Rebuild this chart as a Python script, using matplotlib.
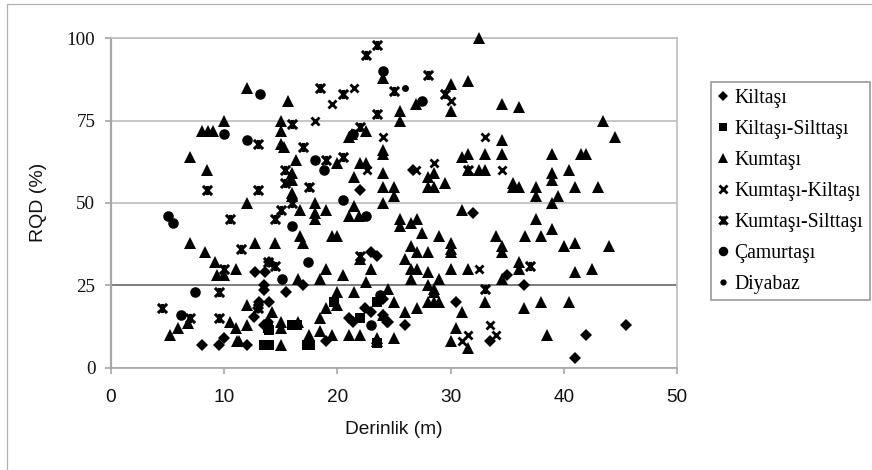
import numpy as np
import matplotlib.pyplot as plt
from matplotlib.path import Path
from matplotlib.lines import Line2D

# values: (derinlik, RQD) for each rock type
kiltasi_x = [8, 9.5, 10, 12, 12.7, 13.6, 14, 13.5, 13.5, 15.5, 17, 14, 13.1, 13, 12.6, 13.5, 13.9, 19, 23, 23.5,
             21, 21.4, 22.4, 23, 24.4, 22, 26.7, 32, 35, 36.5, 30.5, 26, 24.5, 24, 33.5, 42, 45.5, 41, 24]
kiltasi_y = [7, 7, 9, 7, 29, 29, 32, 25, 23.5, 23, 25, 20, 20, 18, 15.5, 13, 14, 8, 35, 34,
             15, 14, 18, 17, 14, 54, 60, 47, 28, 25, 20, 13, 14, 16, 8, 10, 13, 3, 21]
kiltasi_silt_x = [13.5, 14, 17.3, 17.6, 16, 16.4, 22, 23.5, 19.7, 13.9, 14, 23.5]
kiltasi_silt_y = [7, 7, 7, 7, 13, 13, 15, 20, 20, 12, 11.5, 7.4]
kumtasi_x = [12, 15.6, 10, 8, 8.6, 9, 7, 8.5, 15, 15, 15, 15.3, 16.3, 16, 16, 16, 16, 12, 18, 20, 21, 21.3, 22.5,
             22, 22.5, 21.5, 24, 24, 24, 24, 24, 21.5, 24, 32.5, 30, 31.5, 26.9, 25.5, 25.5, 30, 34.5, 36, 43.5,
             44.5, 34.5, 34.5, 33, 31.5, 31, 39, 41.5, 42, 40.5, 39, 39, 41, 43, 37.5, 37.5, 39.5, 39, 35.5, 35.5,
             36, 31.5, 32.5, 33, 28, 28.5, 29.5, 28, 28.5, 25, 25,
             7, 8.3, 9.2, 9.4, 10, 11, 12.7, 14.5, 16.7, 17, 19.5, 20, 21, 21.9, 18, 18, 16.7, 19,
             19, 18.5, 20.5, 16.5, 23, 22.5, 22, 20, 21.5, 20, 19, 18.5, 18.5, 19.5, 21, 22, 23.5, 23.5, 17.5, 17.5,
             12, 14.2, 12, 10.5, 11, 11.1, 11.3, 15, 15, 15, 16.5, 5.9, 5.2, 6.8, 24, 24.5,
             31, 37.5, 27, 26.5, 25.5, 25.5, 27.5, 29, 34, 36.6, 38, 39, 41, 40, 44, 30, 30, 30, 26.5, 27, 28,
             34.5, 34.5, 26, 26.5, 27, 28, 30, 31.5, 36, 36, 41, 42.5, 26.5, 29, 34.5, 28, 28.5, 28.5,
             28, 28.5, 29, 25, 33, 38, 40.5, 36.5, 27, 26, 31, 30.5, 25, 30, 31.5, 38.5]
kumtasi_y = [85, 81, 75, 72, 72, 72, 64, 60, 75, 72, 68, 67, 63, 59, 57, 53, 52, 50, 50, 62, 70, 71, 72,
             62, 62, 58, 88, 66, 65, 59, 55, 49, 50, 100, 86, 87, 80, 78, 75, 78, 80, 79, 75,
             70, 69, 65, 65, 65, 64, 65, 65, 65, 60, 59, 57, 55, 55, 55, 52, 52, 50, 56, 55,
             55, 60, 60, 60, 55, 55, 56, 58, 59, 55, 52,
             38, 35, 32, 28, 28, 30, 38, 38, 40, 38, 40, 40, 46, 46, 45, 47, 48, 48,
             30, 27, 28, 27, 30, 26, 33, 23, 23, 19, 18, 15, 11, 10, 10, 10, 9, 8, 10, 8,
             19, 17, 13, 14, 12, 8, 8, 14, 12, 7, 14, 12, 10, 13.5, 16, 24,
             48, 45, 45, 44, 45, 43, 41, 40, 40, 40, 40, 42, 38, 37, 37, 38, 36, 35, 37, 35, 35,
             37, 35, 33, 30, 30, 29, 30, 30, 32, 30, 29, 30, 27, 27, 27, 25, 24, 23,
             20, 20, 20, 20, 20, 20, 20, 18, 18, 17, 17, 12, 9, 8, 6, 10]
kumtasi_kil_x = [18, 19.5, 21.5, 24, 22.6, 33, 28.5, 30, 34.5, 26.9, 32.5, 33.5, 34, 31.5, 31]
kumtasi_kil_y = [75, 80, 85, 70, 60, 70, 62, 81, 60, 60, 30, 13, 10, 10, 8]
kumtasi_silt_x = [23.5, 22.5, 18.5, 20.5, 23.5, 16, 13, 17, 22, 19, 20.5, 15.4, 15.4, 17.5, 8.5, 13, 16,
                  28, 25, 29.5, 31.5, 4.5, 7, 9.5, 9.5, 10.5, 11.5, 14.5, 15, 22, 10, 14.5, 13.9, 13, 33, 37]
kumtasi_silt_y = [98, 95, 85, 83, 77, 74, 68, 67, 73, 63, 64, 60, 56, 55, 54, 54, 50,
                  89, 84, 83, 60, 18, 15, 23, 15, 45, 36, 45, 48, 34, 30, 31, 32, 18, 24, 31]
camurtasi_x = [13.2, 24, 10, 12, 21.4, 18, 18.8, 20.5, 27.5, 5, 5.5, 16, 17.4, 7.4, 6.2, 15.1, 23, 22.5, 23.8]
camurtasi_y = [83, 90, 71, 69, 71, 63, 60, 51, 81, 46, 44, 43, 32, 23, 16, 27, 13, 46, 22]
diyabaz_x = [26]
diyabaz_y = [85]

tick_x = [0, 10, 20, 30, 40, 50]
tick_y = [0, 25, 50, 75, 100]

# Excel's star marker: an x with a vertical stroke through it
star = Path([(-1, -1), (1, 1), (-1, 1), (1, -1), (0, -1), (0, 1)],
            [Path.MOVETO, Path.LINETO, Path.MOVETO, Path.LINETO, Path.MOVETO, Path.LINETO])

fig = plt.figure(figsize=(8.72, 4.7), dpi=100)
ax = fig.add_axes([111/872, 1-367.7/470, 566/872, 329.4/470])

series = [
    (kiltasi_x, kiltasi_y, 'D', 5.8, 0, 'Kiltaşı'),
    (kiltasi_silt_x, kiltasi_silt_y, 's', 7.0, 0, 'Kiltaşı-Silttaşı'),
    (kumtasi_x, kumtasi_y, '^', 8.4, 0, 'Kumtaşı'),
    (kumtasi_kil_x, kumtasi_kil_y, 'x', 6.4, 2.0, 'Kumtaşı-Kiltaşı'),
    (kumtasi_silt_x, kumtasi_silt_y, star, 6.6, 2.2, 'Kumtaşı-Silttaşı'),
    (camurtasi_x, camurtasi_y, 'o', 7.6, 0, 'Çamurtaşı'),
    (diyabaz_x, diyabaz_y, 'o', 5.0, 0, 'Diyabaz'),
]
for xs, ys, mk, ms, mew, name in series:
    ax.plot(xs, ys, lw=0, marker=mk, color='black', markersize=ms, mew=mew,
            label=name, clip_on=False, zorder=3)

ax.set_xlim(0, 50)
ax.set_ylim(0, 100)
ax.set_xticks(tick_x)
ax.set_yticks(tick_y)
ax.grid(axis='y', color='#bdbdbd', lw=1.2)
ax.get_ygridlines()[1].set_color('#666666')
ax.set_axisbelow(True)
for s in ax.spines.values():
    s.set_color('#bdbdbd')
    s.set_linewidth(1.2)
ax.spines['left'].set_color('#a6a6a6')
ax.spines['left'].set_linewidth(1.6)
ax.spines['bottom'].set_color('#a6a6a6')
ax.tick_params(axis='x', length=4.3, width=1.2, color='#a6a6a6', labelsize=13.7, labelcolor='#111111', pad=11)
ax.tick_params(axis='y', length=4.3, width=1.2, color='#a6a6a6', labelsize=13.7, labelcolor='#111111', pad=7)
for lab in ax.get_xticklabels():
    lab.set_family('Liberation Sans')
for lab in ax.get_yticklabels():
    lab.set_family('Liberation Serif')
ax.set_xlabel('Derinlik (m)', family='Liberation Sans', fontsize=13.8, color='#111111', labelpad=10.5)
ax.set_ylabel('RQD (%)', family='Liberation Sans', fontsize=14, color='#111111')
ax.yaxis.set_label_coords(47/872, 1-202.5/470, transform=fig.transFigure)

leg = ax.legend(loc='upper left', bbox_to_anchor=(711/872, 1-82/470), bbox_transform=fig.transFigure,
                prop={'family': 'Liberation Serif', 'size': 14.2}, frameon=True, fancybox=False,
                edgecolor='#9a9a9a', framealpha=1, borderaxespad=0, borderpad=0.33,
                labelspacing=0.61, handlelength=0.6, handletextpad=0.27, markerscale=0.9)
leg.get_frame().set_linewidth(1.2)

# outer frame of the chart: only its top and left edges fall inside the picture
fig.add_artist(Line2D([6.5/872, 6.5/872, 871/872], [0, 1-3.5/470, 1-3.5/470], color='#b0b0b0', lw=0.9))

plt.savefig('out.png', dpi=100)
